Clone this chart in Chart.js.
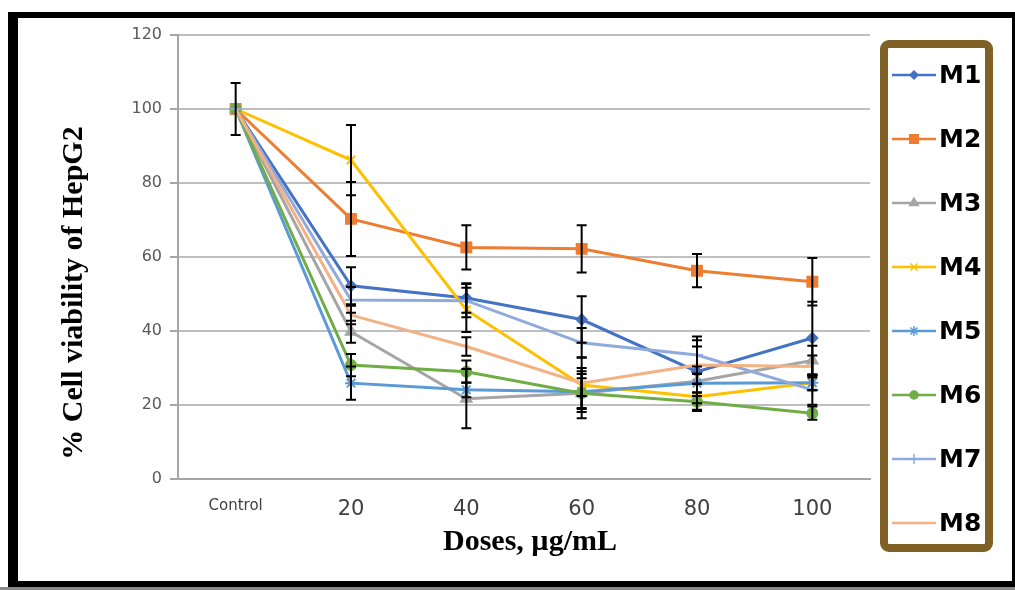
<!DOCTYPE html>
<html>
<head>
<meta charset="utf-8">
<script src="https://cdn.jsdelivr.net/npm/chart.js"></script>
<style>
  html, body { margin: 0; padding: 0; background: #ffffff; }
  #wrap { position: relative; width: 1015px; height: 590px; overflow: hidden; background: #fff; }
  #c { position: absolute; left: 0; top: 0; }
  #frame { position: absolute; left: 8px; top: 12px; width: 1007px; height: 575px; box-sizing: border-box;
           border-style: solid; border-color: #000; border-width: 6px 3px 6px 10px; pointer-events: none; }
  #under { position: absolute; left: 0; top: 587px; width: 1015px; height: 3px; background: #8a8a8a; }
</style>
</head>
<body>
<div id="wrap">
  <canvas id="c" width="1015" height="590"></canvas>
  <div id="frame"></div>
  <div id="under"></div>
</div>
<script>
// ---- data ----
const categories = ['Control', '20', '40', '60', '80', '100'];
const seriesNames = ['M1', 'M2', 'M3', 'M4', 'M5', 'M6', 'M7', 'M8'];
const M1 = [100, 52.2, 48.9, 43.1, 29.0, 38.1];
const M2 = [100, 70.3, 62.6, 62.2, 56.3, 53.3];
const M3 = [100, 39.8, 21.7, 23.2, 26.4, 32.0];
const M4 = [100, 86.2, 45.7, 25.4, 22.2, 26.0];
const M5 = [100, 25.9, 24.1, 23.6, 25.9, 26.0];
const M6 = [100, 30.8, 29.0, 23.2, 20.9, 17.8];
const M7 = [100, 48.4, 48.2, 36.8, 33.5, 24.1];
const M8 = [100, 44.3, 35.8, 25.9, 30.8, 30.4];
// error bar half-lengths (±)
const E1 = [7, 5, 4, 6.3, 8.5, 9.8];
const E2 = [0, 10, 6, 6.4, 4.5, 6.4];
const E3 = [0, 3, 8, 4, 4, 4];
const E4 = [0, 9.5, 6, 3, 3.5, 2];
const E5 = [0, 4.5, 2, 5.5, 2.5, 2];
const E6 = [0, 3, 3, 6.8, 2.5, 1.8];
const E7 = [0, 3.5, 4.5, 4, 5, 4];
const E8 = [0, 2.5, 2.5, 7, 5, 3];
const yTicks = [0, 20, 40, 60, 80, 100, 120];
const xTitle = 'Doses, µg/mL';
const yTitle = '% Cell viability of HepG2';

const values = [M1, M2, M3, M4, M5, M6, M7, M8];
const errors = [E1, E2, E3, E4, E5, E6, E7, E8];
const colors = ['#4472C4', '#ED7D31', '#A5A5A5', '#FFC000', '#5B9BD5', '#70AD47', '#8FAADC', '#F4B183'];
const styles = ['rectRot', 'rect', 'triangle', 'crossRot', 'star', 'circle', 'cross', false];
const radii = [5, 7, 6, 6, 6, 5, 6, 0];

const datasets = seriesNames.map((n, i) => ({
  label: n,
  data: values[i],
  errors: errors[i],
  borderColor: colors[i],
  backgroundColor: colors[i],
  pointBackgroundColor: colors[i],
  pointBorderColor: colors[i],
  pointStyle: styles[i] || 'circle',
  pointRadius: radii[i],
  pointBorderWidth: 2,
  borderWidth: 3,
  tension: 0,
  order: 7 - i
}));

const errorBars = {
  id: 'errorBars',
  afterDatasetsDraw(chart) {
    const ctx = chart.ctx, xs = chart.scales.x, ys = chart.scales.y;
    ctx.save();
    ctx.strokeStyle = '#000';
    ctx.lineWidth = 2;
    chart.data.datasets.forEach((ds) => {
      ds.data.forEach((v, j) => {
        const e = ds.errors[j];
        if (!e) return;
        const x = xs.getPixelForValue(j);
        const y1 = ys.getPixelForValue(v + e), y2 = ys.getPixelForValue(v - e);
        ctx.beginPath();
        ctx.moveTo(x, y1); ctx.lineTo(x, y2);
        ctx.moveTo(x - 5, y1); ctx.lineTo(x + 5, y1);
        ctx.moveTo(x - 5, y2); ctx.lineTo(x + 5, y2);
        ctx.stroke();
      });
    });
    ctx.restore();
  }
};

const axisTitles = {
  id: 'axisTitles',
  afterDraw(chart, args, opts) {
    const ctx = chart.ctx;
    ctx.save();
    ctx.fillStyle = '#000';
    ctx.font = opts.font;
    ctx.textAlign = 'center';
    ctx.textBaseline = 'middle';
    ctx.fillText(xTitle, opts.xCx, opts.xCy);
    ctx.translate(opts.yCx, opts.yCy);
    ctx.rotate(-Math.PI / 2);
    ctx.fillText(yTitle, 0, 0);
    ctx.restore();
  }
};

const boxLegend = {
  id: 'boxLegend',
  afterDraw(chart, args, opts) {
    const ctx = chart.ctx;
    ctx.save();
    ctx.strokeStyle = opts.frameColor;
    ctx.lineWidth = opts.frameWidth;
    ctx.beginPath();
    if (ctx.roundRect) ctx.roundRect(opts.x, opts.y, opts.w, opts.h, 5);
    else ctx.rect(opts.x, opts.y, opts.w, opts.h);
    ctx.stroke();
    chart.data.datasets.forEach((ds, i) => {
      const cy = opts.firstY + i * opts.gap;
      ctx.strokeStyle = ds.borderColor;
      ctx.lineWidth = 2.5;
      ctx.beginPath();
      ctx.moveTo(opts.lineX0, cy); ctx.lineTo(opts.lineX1, cy);
      ctx.stroke();
      if (ds.pointRadius > 0 && Chart.helpers && Chart.helpers.drawPoint) {
        ctx.fillStyle = ds.pointBackgroundColor;
        ctx.strokeStyle = ds.pointBorderColor;
        ctx.lineWidth = 1.5;
        Chart.helpers.drawPoint(ctx, { pointStyle: ds.pointStyle, radius: Math.max(ds.pointRadius - 1, 3), borderWidth: 1.5, rotation: 0 },
          (opts.lineX0 + opts.lineX1) / 2, cy);
      }
      ctx.fillStyle = '#000';
      ctx.font = opts.font;
      ctx.textBaseline = 'middle';
      ctx.textAlign = 'left';
      ctx.fillText(ds.label, opts.textX, cy + 1);
    });
    ctx.restore();
  }
};

new Chart(document.getElementById('c'), {
  type: 'line',
  data: { labels: categories, datasets },
  plugins: [errorBars, axisTitles, boxLegend],
  options: {
    responsive: false,
    animation: false,
    devicePixelRatio: 1,
    layout: { padding: { left: 0, top: 35, right: 145, bottom: 0 } },
    plugins: {
      legend: { display: false },
      tooltip: { enabled: false },
      axisTitles: {
        font: 'bold 30px "Liberation Serif", "Times New Roman", serif',
        xCx: 530, xCy: 542, yCx: 74, yCy: 293
      },
      boxLegend: {
        x: 884, y: 44, w: 105, h: 504, frameColor: '#7F6025', frameWidth: 8,
        firstY: 75, gap: 64, lineX0: 892, lineX1: 936, textX: 939,
        font: 'bold 25px "DejaVu Sans"'
      }
    },
    scales: {
      x: {
        type: 'category',
        offset: true,
        grid: { display: false },
        border: { display: true, color: '#A6A6A6', width: 2 },
        ticks: {
          color: '#404040',
          padding: 10,
          autoSkip: false,
          maxRotation: 0,
          font: (c) => ({ family: '"DejaVu Sans"', size: c.index === 0 ? 15 : 21 })
        },
        title: { display: false },
        afterFit: (s) => { s.height = 111; }
      },
      y: {
        min: 0, max: 120,
        afterBuildTicks: (s) => { s.ticks = yTicks.map(v => ({ value: v })); },
        grid: { color: '#BFBFBF', lineWidth: 2, drawTicks: true, tickLength: 8, tickColor: '#A6A6A6' },
        border: { display: true, color: '#A6A6A6', width: 2 },
        ticks: {
          color: '#595959',
          padding: 8,
          font: { family: '"DejaVu Sans"', size: 16 }
        },
        title: { display: false },
        afterFit: (s) => { s.width = 178; }
      }
    }
  }
});
</script>
</body>
</html>
